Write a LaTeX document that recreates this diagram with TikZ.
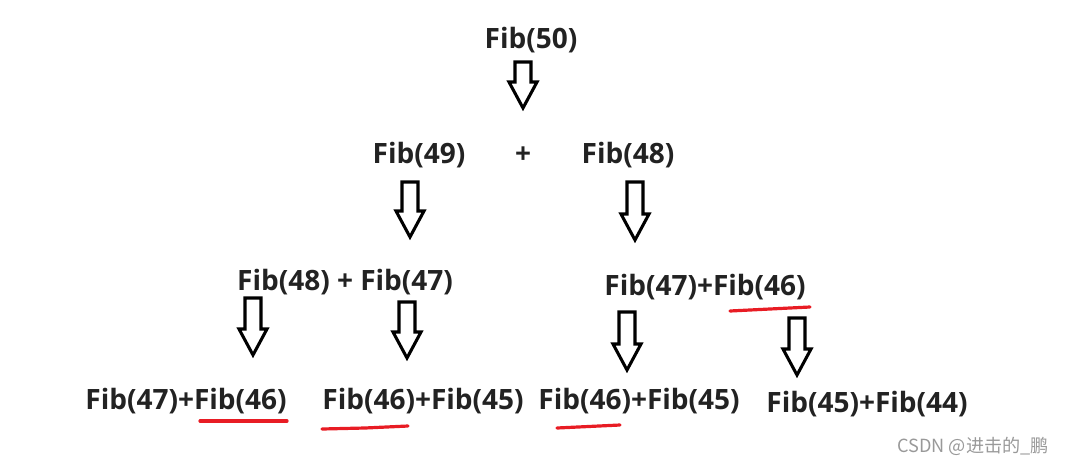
\documentclass[tikz,border=0pt]{standalone}
\usepackage{fontspec}
\setmainfont{Open Sans}
\newfontfamily\cjkfont{Noto Sans CJK SC}
\usepackage{tikz}
\definecolor{markred}{RGB}{232,28,36}
\definecolor{fibtext}{RGB}{34,34,34}

\begin{document}
\begin{tikzpicture}[
  x=0.75pt, y=-0.75pt,
  fib/.style={
    font=\fontsize{21}{25}\selectfont\bfseries,
    text=fibtext, inner sep=0pt
  },
  downarr/.pic={
    \draw[black, line width=2.3pt, line join=miter, fill=white]
      (-8,0) -- (8,0) -- (8,#1-26) -- (14,#1-26) -- (0,#1)
      -- (-14,#1-26) -- (-8,#1-26) -- cycle;
  },
  redline/.style={draw=markred, line width=2.4pt, line cap=round}
]
  \useasboundingbox (0,0) rectangle (1067,465);

  % top
  \node[fib] (f50) at (531,40) {Fib(50)};
  \pic (a0) at (523,62) {downarr=46};

  % second row
  \node[fib] (f49)  at (419,155) {Fib(49)};
  \node[fib] (plus) at (523,155) {+};
  \node[fib] (f48)  at (628,155) {Fib(48)};
  \pic (a1) at (410,182) {downarr=55};
  \pic (a2) at (635,182) {downarr=58};

  % third row
  \node[fib] (l3) at (345,282) {Fib(48) + Fib(47)};
  \node[fib] (r3) at (705,287) {Fib(47)+Fib(46)};
  \pic (a3) at (253,298) {downarr=57};
  \pic (a4) at (407,302) {downarr=56};
  \pic (a5) at (627,312) {downarr=58};
  \pic (a6) at (797,318) {downarr=57};

  % bottom row
  \node[fib] (b1) at (186,401) {Fib(47)+Fib(46)};
  \node[fib] (b2) at (423,401) {Fib(46)+Fib(45)};
  \node[fib] (b3) at (639,401) {Fib(46)+Fib(45)};
  \node[fib] (b4) at (867,404) {Fib(45)+Fib(44)};

  % red underlines
  \draw[redline] (730,311) -- (810,307);
  \draw[redline] (200,421) -- (287,421);
  \draw[redline] (322,429) -- (365,428) -- (408,426);
  \draw[redline] (557,428) -- (620,425);

  \node[font=\cjkfont\fontsize{13.6}{16}\selectfont, text=black!40, inner sep=0pt]
    (wm) at (973,446) {CSDN @进击的\_鹏};
\end{tikzpicture}
\end{document}
